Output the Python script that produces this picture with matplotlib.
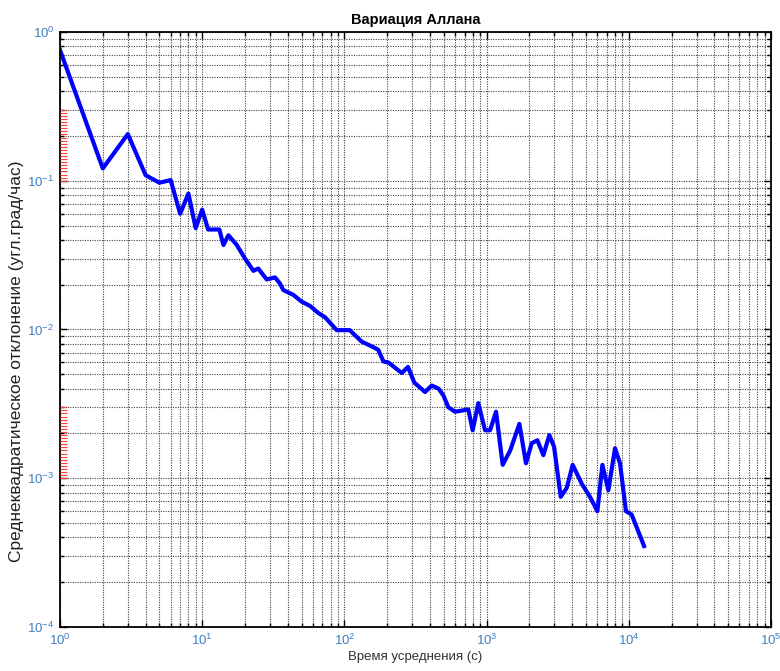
import numpy as np
import matplotlib
matplotlib.use("Agg")
import matplotlib.pyplot as plt
from matplotlib.ticker import LogLocator, NullFormatter
import matplotlib.transforms as mtransforms

plt.rcParams['font.family'] = ['Liberation Sans', 'DejaVu Sans']
plt.rcParams['mathtext.fontset'] = 'custom'
plt.rcParams['mathtext.rm'] = 'Liberation Sans'
plt.rcParams['mathtext.it'] = 'Liberation Sans'

# время усреднения (с) и СКО (угл.град/час)
tau = [1, 2, 3, 4, 5, 6, 7, 8, 9, 10, 11, 13.2, 14.1, 15.3, 17.5, 20, 22.9, 24.8,
       28.4, 32.5, 35.2, 37.2, 43.7, 50, 57.3, 65.6, 73, 88.3, 109, 132, 160, 173,
       188, 204, 253, 280, 310, 369, 411, 460, 497, 538, 600, 744, 798, 874, 975,
       1057, 1165, 1297, 1462, 1700, 1892, 2075, 2275, 2506, 2762, 2980, 3320,
       3657, 4030, 4660, 5330, 6010, 6520, 7180, 8000, 8670, 9550, 10470, 12800]
adev = [0.757, 0.121, 0.206, 0.109, 0.097, 0.101, 0.060, 0.082, 0.048, 0.064,
        0.047, 0.047, 0.037, 0.043, 0.037, 0.030, 0.0248, 0.0257, 0.0217, 0.0224,
        0.0204, 0.0184, 0.0171, 0.0154, 0.0144, 0.0129, 0.0121, 0.0099, 0.0099,
        0.0083, 0.0076, 0.0073, 0.0061, 0.0060, 0.0051, 0.0056, 0.0044, 0.0038,
        0.0042, 0.0040, 0.0036, 0.0030, 0.0028, 0.0029, 0.0021, 0.0032, 0.0021,
        0.0021, 0.0028, 0.00123, 0.00153, 0.00232, 0.00126, 0.00172, 0.00180,
        0.00143, 0.00195, 0.00163, 0.00075, 0.00086, 0.00123, 0.00092, 0.00075,
        0.00060, 0.00123, 0.00083, 0.00159, 0.00126, 0.00060, 0.00057, 0.00035]

# красные засечки у левой оси (артефакт исходника)
red_bands = [(0.1, 0.3), (0.001, 0.003)]

lblcol = '#3d7fbf'

fig = plt.figure(figsize=(7.8, 6.71), dpi=100)
ax = fig.add_axes([0.0769, 0.0656, 0.9116, 0.8867])

ax.loglog(tau, adev, color='#0000ff', lw=3, solid_joinstyle='round')
ax.set_xlim(1, 1e5)
ax.set_ylim(1e-4, 1)

ax.xaxis.set_major_locator(LogLocator(base=10, numticks=10))
ax.xaxis.set_minor_locator(LogLocator(base=10, subs=np.arange(2, 10), numticks=20))
ax.yaxis.set_major_locator(LogLocator(base=10, numticks=10))
ax.yaxis.set_minor_locator(LogLocator(base=10, subs=np.arange(2, 10), numticks=20))
ax.xaxis.set_minor_formatter(NullFormatter())
ax.yaxis.set_minor_formatter(NullFormatter())

ax.grid(True, which='both', color='#444444', linestyle=(0, (1, 1.2)), lw=0.8)
ax.tick_params(which='both', direction='in', top=True, right=True, color='black')
ax.tick_params(which='major', length=5, width=1, labelsize=9.5, labelcolor=lblcol, pad=4)
ax.tick_params(which='minor', length=3, width=1)
for s in ax.spines.values():
    s.set_linewidth(1.3)

trans = mtransforms.blended_transform_factory(ax.transAxes, ax.transData)
for lo, hi in red_bands:
    ys = np.geomspace(lo, hi, 24)
    ax.hlines(ys, 0, 0.01, color='#ff4040', lw=0.8, transform=trans, zorder=5)

ax.set_title('Вариация Аллана', fontsize=10.5, fontweight='bold', pad=6)
ax.set_xlabel('Время усреднения (с)', fontsize=9.5, color='#333333', labelpad=2)
ax.set_ylabel('Среднеквадратическое отклонение (угл.град/час)', fontsize=12.5,
              color='#222222')
ax.yaxis.set_label_coords(-0.05, 0.447)

fig.savefig('out.png', dpi=100)
